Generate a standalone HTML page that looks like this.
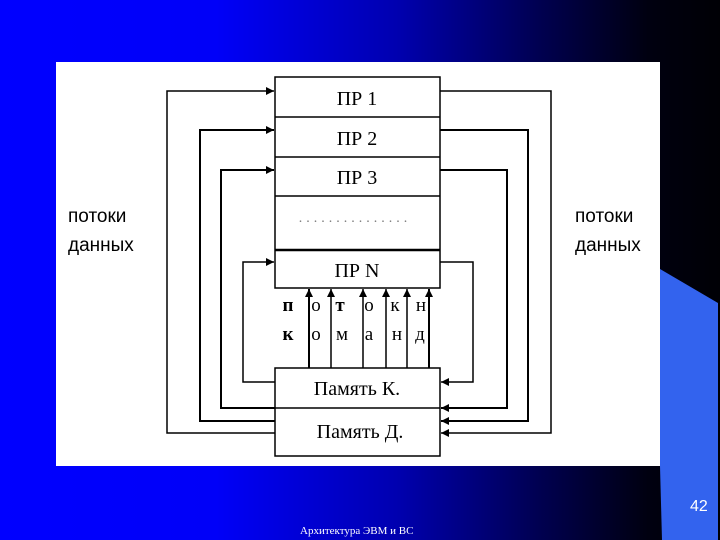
<!DOCTYPE html>
<html><head><meta charset="utf-8"><style>
html,body{margin:0;padding:0;width:720px;height:540px;overflow:hidden}
body{background:linear-gradient(90deg,#0000ff 0%,#0000f8 30%,#0000b0 55%,#000050 75%,#000010 90%,#000005 100%)}
</style></head><body>
<svg width="720" height="540" viewBox="0 0 720 540" xmlns="http://www.w3.org/2000/svg" style="position:absolute;left:0;top:0">
<defs><marker id="a" viewBox="0 0 10 10" refX="10" refY="5" markerUnits="userSpaceOnUse" markerWidth="9" markerHeight="8" orient="auto"><path d="M0,0L10,5L0,10z" fill="#000"/></marker></defs>
<polygon points="660,269 718,303 718,540 662,540 660,466" fill="#3363ee"/>
<rect x="56" y="62" width="604" height="404" fill="#fff"/>
<g stroke="#000" stroke-width="1.5" fill="none">
<rect x="275" y="77" width="165" height="211"/>
<line x1="275" y1="117" x2="440" y2="117"/>
<line x1="275" y1="157" x2="440" y2="157"/>
<line x1="275" y1="196" x2="440" y2="196"/>
<line x1="275" y1="250" x2="440" y2="250" stroke-width="2.5"/>
<rect x="275" y="368" width="165" height="88"/>
<line x1="275" y1="408" x2="440" y2="408"/>
<polyline points="275,433 167,433 167,91 274,91" marker-end="url(#a)"/>
<polyline points="275,421 200,421 200,130 274,130" marker-end="url(#a)" stroke-width="2"/>
<polyline points="275,408 221,408 221,170 274,170" marker-end="url(#a)" stroke-width="2"/>
<polyline points="275,382 243,382 243,262 274,262" marker-end="url(#a)"/>
<polyline points="440,91 551,91 551,433 441,433" marker-end="url(#a)"/>
<polyline points="440,130 528,130 528,421 441,421" marker-end="url(#a)" stroke-width="2"/>
<polyline points="440,170 507,170 507,408 441,408" marker-end="url(#a)" stroke-width="2"/>
<polyline points="440,262 473,262 473,382 441,382" marker-end="url(#a)"/>
<line x1="309" y1="368" x2="309" y2="289" marker-end="url(#a)" stroke-width="2"/>
<line x1="331" y1="368" x2="331" y2="289" marker-end="url(#a)"/>
<line x1="363" y1="368" x2="363" y2="289" marker-end="url(#a)"/>
<line x1="386" y1="368" x2="386" y2="289" marker-end="url(#a)"/>
<line x1="407" y1="368" x2="407" y2="289" marker-end="url(#a)"/>
<line x1="429" y1="368" x2="429" y2="289" marker-end="url(#a)" stroke-width="2"/>
</g>
<g font-family="Liberation Serif, serif" font-size="20" fill="#000" text-anchor="middle">
<text x="357" y="105">ПР 1</text>
<text x="357" y="145">ПР 2</text>
<text x="357" y="184">ПР 3</text>
<text x="357" y="277">ПР N</text>
<text x="357" y="395">Память  К.</text>
<text x="360" y="438">Память  Д.</text>
<text x="355" y="222" font-size="14" fill="#777" letter-spacing="4">...............</text>
<g font-size="19">
<text x="288" y="311" font-weight="bold">п</text><text x="316" y="311">о</text><text x="340" y="311" font-weight="bold">т</text><text x="369" y="311">о</text><text x="395" y="311">к</text><text x="421" y="311">н</text>
<text x="288" y="340" font-weight="bold">к</text><text x="316" y="340">о</text><text x="342" y="340">м</text><text x="369" y="340">а</text><text x="397" y="340">н</text><text x="420" y="340">д</text>
</g>
</g>
<g font-family="Liberation Sans, sans-serif" font-size="19" fill="#000">
<text x="68" y="222">потоки</text><text x="68" y="251">данных</text>
<text x="575" y="222">потоки</text><text x="575" y="251">данных</text>
</g>
<text x="690" y="511" font-family="Liberation Sans, sans-serif" font-size="16" fill="#fff">42</text>
<text x="300" y="534" font-family="Liberation Serif, serif" font-size="11" fill="#fff">Архитектура ЭВМ  и  ВС</text>
</svg>
</body></html>
